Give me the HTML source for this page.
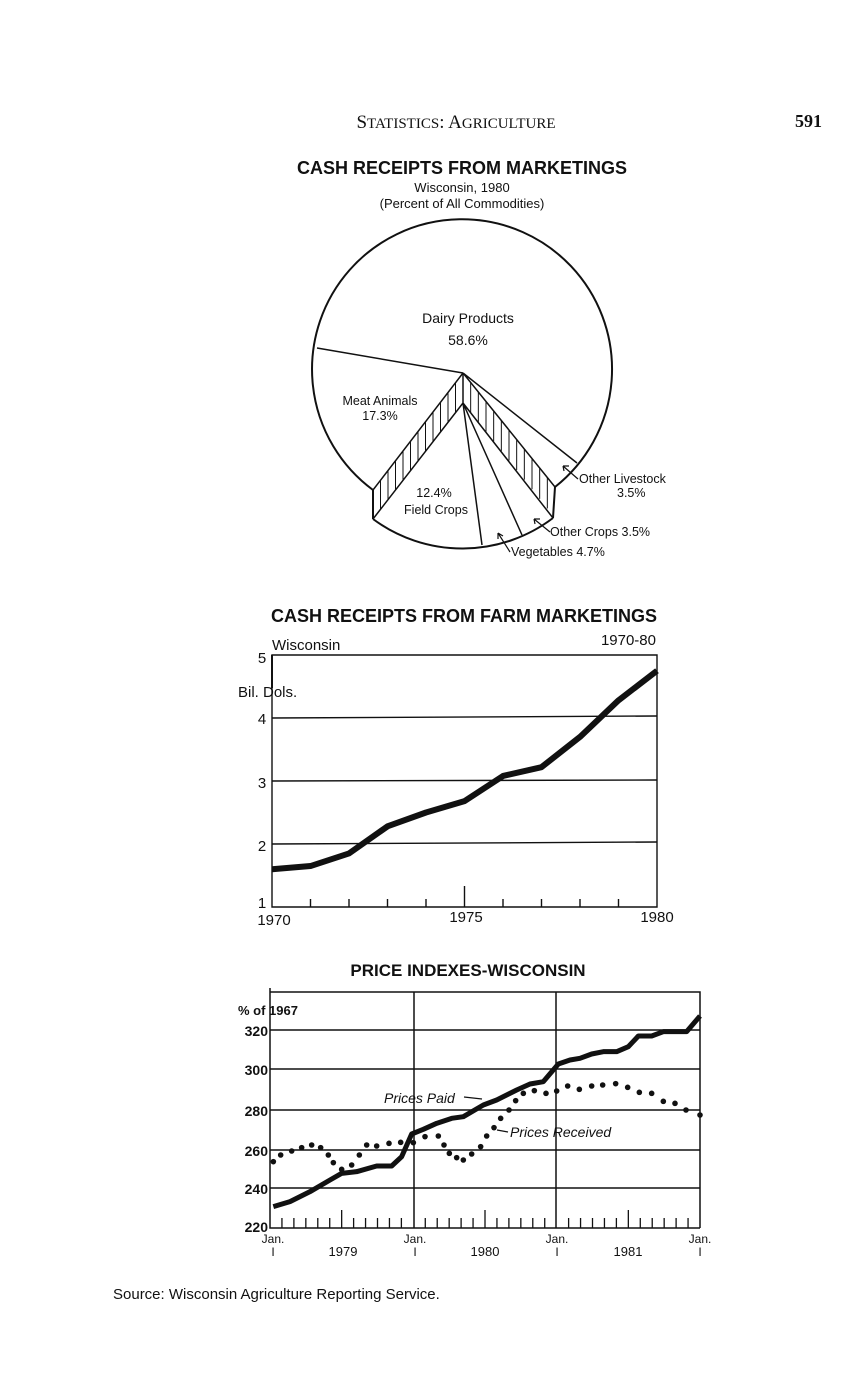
<!DOCTYPE html>
<html><head><meta charset="utf-8"><style>
html,body{margin:0;padding:0;background:#fff;}
svg{display:block;}
text{font-family:"Liberation Sans",sans-serif;fill:#111;}
</style></head><body>
<svg id="s" width="859" height="1380" viewBox="0 0 859 1380" xmlns="http://www.w3.org/2000/svg">
<rect width="859" height="1380" fill="#fff"/>
<text x="456" y="128" text-anchor="middle" style="font-family:'Liberation Serif',serif;font-size:19px;">S<tspan font-size="15">TATISTICS</tspan>: A<tspan font-size="15">GRICULTURE</tspan></text>
<text x="795" y="127" style="font-family:'Liberation Serif',serif;font-size:18px;font-weight:bold;">591</text>
<text x="462" y="174" text-anchor="middle" font-size="18" font-weight="bold">CASH RECEIPTS FROM MARKETINGS</text>
<text x="462" y="192" text-anchor="middle" font-size="13">Wisconsin, 1980</text>
<text x="462" y="208" text-anchor="middle" font-size="13">(Percent of All Commodities)</text>
<g fill="none" stroke="#111" stroke-width="2">
<path d="M373,490 A150,150 0 1 1 555,487"/>
<path d="M373,519 A150,150 0 0 0 553,518"/>
<path d="M373,490 L373,519 M555,487 L553,518"/>
</g>
<g fill="none" stroke="#111" stroke-width="1.5">
<path d="M463,373 L317,348 M463,373 L577,463 M463,373 L373,490 M463,373 L555,487"/>
<path d="M463,403 L373,519 M463,403 L553,518 M463,403 L482,545 M463,403 L522,535 M463,373 L463,403"/>
</g>
<g id="hatch" stroke="#111" stroke-width="1"></g>
<text x="468" y="323" text-anchor="middle" font-size="14">Dairy Products</text>
<text x="468" y="345" text-anchor="middle" font-size="14">58.6%</text>
<text x="380" y="405" text-anchor="middle" font-size="12.5">Meat Animals</text>
<text x="380" y="420" text-anchor="middle" font-size="12.5">17.3%</text>
<text x="434" y="497" text-anchor="middle" font-size="12.5">12.4%</text>
<text x="436" y="514" text-anchor="middle" font-size="12.5">Field Crops</text>
<text x="579" y="483" font-size="12.5">Other Livestock</text>
<text x="617" y="497" font-size="12.5">3.5%</text>
<text x="550" y="536" font-size="12.5">Other Crops 3.5%</text>
<text x="511" y="556" font-size="12.5">Vegetables 4.7%</text>
<g stroke="#111" stroke-width="1.2" fill="none">
<path d="M578,479 L563,466 M563,466 l6,0 M563,466 l1,5"/>
<path d="M550,532 L534,519 M534,519 l6,0 M534,519 l1,5"/>
<path d="M510,552 L498,533 M498,533 l0,6 M498,533 l5,3"/>
</g>

<text x="464" y="622" text-anchor="middle" font-size="18" font-weight="bold">CASH RECEIPTS FROM FARM MARKETINGS</text>
<text x="272" y="650" font-size="15">Wisconsin</text>
<text x="656" y="645" text-anchor="end" font-size="15">1970-80</text>
<text x="238" y="697" font-size="15">Bil. Dols.</text>
<g font-size="15" text-anchor="middle">
<text x="262" y="663">5</text><text x="262" y="724">4</text><text x="262" y="788">3</text><text x="262" y="851">2</text><text x="262" y="908">1</text>
<text x="274" y="925">1970</text><text x="466" y="922">1975</text><text x="657" y="922">1980</text>
</g>
<g stroke="#111" fill="none" stroke-width="1.4">
<path d="M272,655 L657,655 L657,907 L272,907 Z"/>
<path d="M272,718 L657,716 M272,781 L657,780 M272,844 L657,842"/>
<path d="M272,655 L272,688" stroke-width="2"/>
</g>
<g id="mt" stroke="#111" stroke-width="1.4"></g>
<polyline id="mline" fill="none" stroke="#111" stroke-width="6" stroke-linejoin="round"/>

<text x="468" y="976" text-anchor="middle" font-size="17" font-weight="bold">PRICE INDEXES-WISCONSIN</text>
<g stroke="#111" fill="none" stroke-width="1.5">
<path d="M270,992 L700,992 L700,1228 M270,988 L270,1228 L700,1228"/>
<path d="M270,1030 L700,1030 M270,1069 L700,1069 M270,1110 L700,1110 M270,1150 L700,1150 M270,1188 L700,1188"/>
<path d="M414,992 L414,1228 M556,992 L556,1228"/>
</g>
<g id="bt" stroke="#111" stroke-width="1.3"></g>
<g font-size="14" font-weight="bold" text-anchor="end">
<text x="268" y="1036">320</text><text x="268" y="1075">300</text><text x="268" y="1116">280</text><text x="268" y="1156">260</text><text x="268" y="1194">240</text><text x="268" y="1232">220</text>
</g>
<text x="238" y="1015" font-size="13" font-weight="bold">% of 1967</text>
<g font-size="12" text-anchor="middle">
<text x="273" y="1243">Jan.</text><text x="415" y="1243">Jan.</text><text x="557" y="1243">Jan.</text><text x="700" y="1243">Jan.</text>
<text x="273" y="1256">I</text><text x="415" y="1256">I</text><text x="557" y="1256">I</text><text x="700" y="1256">I</text>
<text x="343" y="1256" font-size="13">1979</text><text x="485" y="1256" font-size="13">1980</text><text x="628" y="1256" font-size="13">1981</text>
</g>
<polyline id="pp" fill="none" stroke="#111" stroke-width="5" stroke-linejoin="round"/>
<g id="pr" fill="#111"></g>
<text x="384" y="1103" font-size="14" font-style="italic">Prices Paid</text>
<path d="M464,1097 L482,1099" stroke="#111" stroke-width="1.2" fill="none"/>
<text x="510" y="1137" font-size="14" font-style="italic">Prices Received</text>
<path d="M508,1132 L497,1130" stroke="#111" stroke-width="1.2" fill="none"/>

<text x="113" y="1299" font-size="15">Source: Wisconsin Agriculture Reporting Service.</text>
</svg>
<script>
var NS="http://www.w3.org/2000/svg";
function ln(g,x1,y1,x2,y2){var l=document.createElementNS(NS,"line");l.setAttribute("x1",x1);l.setAttribute("y1",y1);l.setAttribute("x2",x2);l.setAttribute("y2",y2);document.getElementById(g).appendChild(l);}
for(var i=1;i<12;i++){var t=i/12;var xa=463+(373-463)*t,ya=373+(490-373)*t,yb=403+(519-403)*t;ln("hatch",xa,ya,xa,yb);}
for(var i=1;i<12;i++){var t=i/12;var xa=463+(555-463)*t,ya=373+(487-373)*t,yb=403+(518-403)*t;ln("hatch",xa,ya,xa,yb);}
for(var i=1;i<10;i++){var x=272+38.5*i;ln("mt",x,907,x,i==5?886:899);}
var mv=[1.6,1.65,1.85,2.28,2.5,2.68,3.08,3.22,3.7,4.28,4.75],mp=[];
mv.forEach(function(v,i){mp.push((272+38.5*i)+","+(907-(v-1)*63));});
document.getElementById("mline").setAttribute("points",mp.join(" "));
for(var i=1;i<36;i++){var x=270+430*i/36;if(i%12==0)continue;ln("bt",x,1228,x,(i%6==0)?1210:1218);}
var p=[[130,680],[180,665],[240,635],[300,600],[335,580],[380,575],[440,558],[485,558],[515,530],[545,462],[580,448],[620,430],[665,415],[700,410],[760,375],[800,360],[860,330],[900,312],[940,305],[985,252],[1020,240],[1050,235],[1085,222],[1120,215],[1160,215],[1195,200],[1225,168],[1265,168],[1300,155],[1370,155],[1410,108]];
document.getElementById("pp").setAttribute("points",p.map(function(a){return (230+a[0]/3)+","+(980+a[1]/3);}).join(" "));
var d=[[130,545],[152,525],[185,513],[215,503],[245,495],[272,503],[295,525],[310,548],[335,568],[365,555],[388,525],[410,495],[440,498],[477,490],[512,487],[550,488],[585,470],[625,468],[642,495],[658,520],[680,533],[700,540],[725,522],[752,500],[770,468],[792,443],[812,415],[837,390],[857,362],[880,340],[913,332],[948,340],[980,333],[1013,318],[1048,328],[1085,318],[1118,315],[1157,311],[1193,322],[1228,337],[1265,340],[1300,364],[1335,370],[1368,390],[1410,405]];
d.forEach(function(a){var c=document.createElementNS(NS,"circle");c.setAttribute("cx",230+a[0]/3);c.setAttribute("cy",980+a[1]/3);c.setAttribute("r",2.8);document.getElementById("pr").appendChild(c);});
</script>
</body></html>
